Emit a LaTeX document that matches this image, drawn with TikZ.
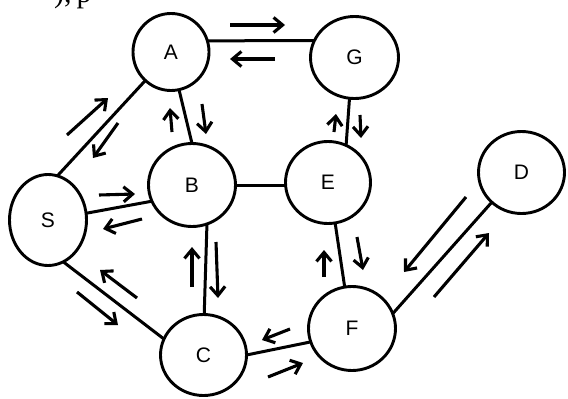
\documentclass[tikz,border=0pt]{standalone}
\usepackage{fontspec}
\setmainfont{Liberation Sans}
\newfontfamily\captionserif{Liberation Serif}
\usetikzlibrary{arrows.meta,shapes.geometric}
\begin{document}
\begin{tikzpicture}[x=1pt,y=-1pt,
  state/.style={ellipse, draw, line width=2.9pt, inner sep=0pt, outer sep=0pt,
    font=\fontsize{21}{21}\selectfont},
  link/.style={line width=3pt},
  flow/.style={line width=3.1pt, -{Straight Barb[length=9pt,width=15pt]}}]
\useasboundingbox[fill=white] (0,0) rectangle (568,399);

% fragment of the caption line above, cut by the top edge
\node[anchor=base west, inner sep=0pt, font=\captionserif\fontsize{30}{30}\selectfont]
  (cap) at (54,2) {),\,p};

% states
\node[state, minimum width=76pt, minimum height=77pt] (A) at (171,52)   {A};
\node[state, minimum width=88pt, minimum height=82pt] (G) at (354.5,57.5) {G};
\node[state, minimum width=87pt, minimum height=83pt] (B) at (192,185)  {B};
\node[state, minimum width=85pt, minimum height=82pt] (E) at (328,182.5) {E};
\node[state, minimum width=86pt, minimum height=82pt] (D) at (521.5,172.5) {D};
\node[state, minimum width=77pt, minimum height=91pt] (S) at (48,220)   {S};
\node[state, minimum width=86pt, minimum height=81pt] (C) at (203.5,355) {C};
\node[state, minimum width=87pt, minimum height=84pt] (F) at (352,328.5) {F};

% links
\draw[link] (A.228) -- (S.78);
\draw[link] (A.17) -- (G.157);
\draw[link] (A.282) -- (B.90);
\draw[link] (B.east) -- (B.east -| E.west);
\draw[link] (G.263) -- (E.64);
\draw[link] (B.291) -- (C.89);
\draw[link] (S.10) -- (B.202);
\draw[link] (S.290) -- (C.158);
\draw[link] (C.0) -- (F.198);
\draw[link] (E.280) -- (F.100);
\draw[link] (F.20) -- (D.225);

% flow arrows beside the links
\draw[flow] (67,135) -- (108,98);
\draw[flow] (118,123) -- (93,158);
\draw[flow] (230,25) -- (285,25);
\draw[flow] (275,59) -- (230,59);
\draw[flow] (172,132) -- (170,108);
\draw[flow] (202,104) -- (206,134);
\draw[flow] (334,132) -- (336,114);
\draw[flow] (360,115) -- (361,138);
\draw[flow] (192,287) -- (192,247);
\draw[flow] (216,242) -- (218,298);
\draw[flow] (99,195) -- (135,194);
\draw[flow] (142,219) -- (103,229);
\draw[flow] (137,298) -- (100,270);
\draw[flow] (77,292) -- (118,325);
\draw[flow] (290,329) -- (262,340);
\draw[flow] (268,377) -- (303,363);
\draw[flow] (324,277) -- (324,250);
\draw[flow] (357,237) -- (363,270);
\draw[flow] (466,197) -- (404,272);
\draw[flow] (434,297) -- (489,233);
\end{tikzpicture}
\end{document}
